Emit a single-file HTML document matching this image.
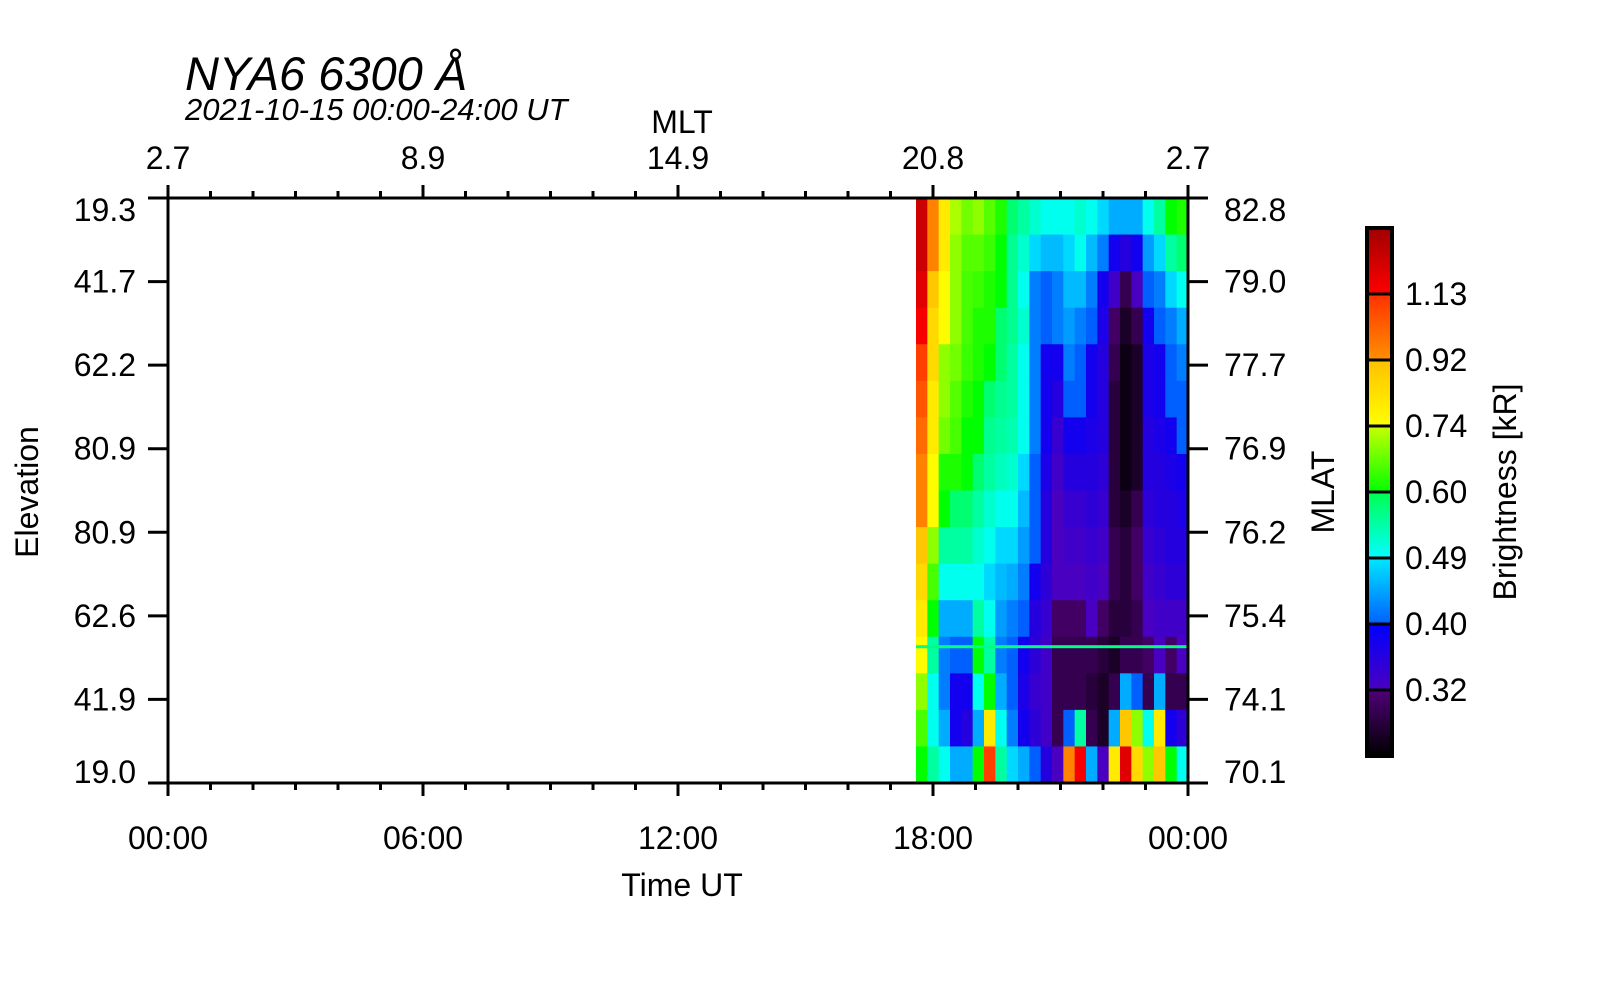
<!DOCTYPE html>
<html><head><meta charset="utf-8"><style>
html,body{margin:0;padding:0;background:#fff;}
svg{display:block;font-family:"Liberation Sans",sans-serif;}
</style></head><body>
<svg id="chart" width="1600" height="1000" viewBox="0 0 1600 1000">
<defs>
<linearGradient id="cbgrad" x1="0" y1="1" x2="0" y2="0">
<stop offset="0" stop-color="#000000"/><stop offset="0.125" stop-color="#500078"/>
<stop offset="0.125" stop-color="#4a00c0"/><stop offset="0.25" stop-color="#0000ff"/>
<stop offset="0.25" stop-color="#0060ff"/><stop offset="0.375" stop-color="#00e8ff"/>
<stop offset="0.375" stop-color="#00ffff"/><stop offset="0.5" stop-color="#00ff50"/>
<stop offset="0.5" stop-color="#00ff00"/><stop offset="0.625" stop-color="#c8ff00"/>
<stop offset="0.625" stop-color="#ffff00"/><stop offset="0.75" stop-color="#ffc000"/>
<stop offset="0.75" stop-color="#ff9000"/><stop offset="0.875" stop-color="#ff3000"/>
<stop offset="0.875" stop-color="#ff0000"/><stop offset="1" stop-color="#a00000"/>
</linearGradient>
</defs>
<text x="185" y="90" font-size="47" font-style="italic">NYA6 6300 Å</text>
<text x="185" y="120" font-size="31" font-style="italic">2021-10-15 00:00-24:00 UT</text>
<text x="682" y="133" font-size="32" text-anchor="middle">MLT</text>
<text x="682" y="896" font-size="32" text-anchor="middle">Time UT</text>
<text transform="translate(38,492) rotate(-90)" font-size="32" text-anchor="middle">Elevation</text>
<text transform="translate(1334,492) rotate(-90)" font-size="32" text-anchor="middle">MLAT</text>
<text transform="translate(1516,492) rotate(-90)" font-size="32" text-anchor="middle">Brightness [kR]</text>
<g id="heat"></g>
<g id="axes"></g>
<g id="cbar"></g>
</svg>
<script>
const xTickLabels = ["00:00","06:00","12:00","18:00","00:00"];
const mltLabels = ["2.7","8.9","14.9","20.8","2.7"];
const elevLabels = ["19.3","41.7","62.2","80.9","80.9","62.6","41.9","19.0"];
const mlatLabels = ["82.8","79.0","77.7","76.9","76.2","75.4","74.1","70.1"];
const cbLevels = [0.26,0.32,0.40,0.49,0.60,0.74,0.92,1.13,1.35];
const cbLabels = ["0.32","0.40","0.49","0.60","0.74","0.92","1.13"];
const dataStart = 17.6;
const lineLevel = 0.57;
const lineRowFrac = 0.767;
const heat = [
[1.25,1.25,1.2,1.15,1.1,1.05,1.0,0.95,0.95,0.9,0.85,0.8,0.75,0.7,0.65,0.6],
[0.95,0.95,0.9,0.85,0.85,0.8,0.8,0.75,0.75,0.7,0.65,0.6,0.55,0.5,0.5,0.55],
[0.8,0.8,0.75,0.75,0.7,0.7,0.68,0.62,0.6,0.55,0.5,0.45,0.42,0.42,0.45,0.5],
[0.72,0.7,0.7,0.7,0.68,0.66,0.65,0.62,0.58,0.55,0.5,0.45,0.4,0.38,0.38,0.45],
[0.68,0.66,0.65,0.65,0.64,0.62,0.6,0.6,0.58,0.55,0.5,0.45,0.4,0.38,0.36,0.45],
[0.7,0.66,0.64,0.62,0.62,0.6,0.6,0.58,0.55,0.52,0.5,0.55,0.6,0.5,0.45,0.6],
[0.66,0.64,0.62,0.62,0.6,0.58,0.56,0.55,0.52,0.5,0.48,0.5,0.55,0.6,0.8,1.1],
[0.62,0.6,0.6,0.58,0.58,0.56,0.55,0.53,0.5,0.48,0.46,0.44,0.42,0.45,0.5,0.55],
[0.58,0.56,0.56,0.56,0.55,0.55,0.54,0.52,0.5,0.48,0.45,0.42,0.4,0.4,0.42,0.48],
[0.55,0.52,0.5,0.52,0.5,0.5,0.5,0.48,0.46,0.44,0.42,0.4,0.38,0.37,0.38,0.45],
[0.52,0.48,0.42,0.42,0.42,0.42,0.42,0.4,0.4,0.4,0.38,0.36,0.35,0.34,0.35,0.4],
[0.5,0.46,0.4,0.4,0.38,0.38,0.38,0.37,0.36,0.36,0.35,0.34,0.33,0.33,0.33,0.36],
[0.5,0.46,0.42,0.42,0.38,0.36,0.34,0.33,0.32,0.32,0.32,0.31,0.3,0.3,0.3,0.32],
[0.5,0.48,0.46,0.44,0.42,0.4,0.38,0.36,0.34,0.33,0.32,0.31,0.3,0.3,0.4,0.95],
[0.52,0.5,0.46,0.42,0.4,0.4,0.38,0.36,0.34,0.33,0.32,0.31,0.3,0.3,0.55,1.15],
[0.5,0.46,0.42,0.4,0.38,0.38,0.37,0.36,0.35,0.34,0.33,0.32,0.3,0.29,0.3,0.45],
[0.48,0.42,0.38,0.37,0.36,0.36,0.36,0.35,0.34,0.33,0.32,0.31,0.29,0.28,0.28,0.32],
[0.45,0.38,0.33,0.31,0.3,0.29,0.29,0.29,0.29,0.3,0.3,0.29,0.28,0.3,0.45,0.8],
[0.45,0.36,0.3,0.28,0.27,0.27,0.27,0.27,0.28,0.29,0.29,0.29,0.3,0.45,0.9,1.2],
[0.45,0.38,0.32,0.3,0.28,0.28,0.28,0.28,0.3,0.31,0.31,0.3,0.3,0.4,0.7,0.85],
[0.5,0.44,0.4,0.38,0.37,0.37,0.36,0.36,0.35,0.34,0.33,0.32,0.31,0.3,0.5,0.7],
[0.55,0.48,0.42,0.4,0.38,0.38,0.37,0.36,0.36,0.35,0.34,0.33,0.32,0.45,0.8,0.9],
[0.6,0.55,0.48,0.42,0.4,0.4,0.38,0.37,0.36,0.36,0.35,0.33,0.31,0.3,0.38,0.6],
[0.62,0.58,0.5,0.45,0.42,0.4,0.4,0.38,0.37,0.36,0.35,0.33,0.32,0.3,0.35,0.5]
];

const NS="http://www.w3.org/2000/svg";
const PL=168, PR=1188, PT=198, PB=783;
const xScale = h => PL + (h/24)*(PR-PL);
const yFrac = f => PT + f*(PB-PT);
const CBX=1367, CBW=25, CBT=228, CBB=756;
const cbY = i => CBB - i*(CBB-CBT)/(cbLevels.length-1);

const stops = [[0,0,0],[80,0,120],[74,0,192],[0,0,255],[0,96,255],[0,232,255],[0,255,255],[0,255,80],[0,255,0],[200,255,0],[255,255,0],[255,192,0],[255,144,0],[255,48,0],[255,0,0],[160,0,0]];
function colorOf(v){
  let k=cbLevels.length-2;
  for(let i=0;i<cbLevels.length-1;i++){ if(v<cbLevels[i+1]){k=i;break;} }
  let t=(v-cbLevels[k])/(cbLevels[k+1]-cbLevels[k]);
  t=Math.max(0,Math.min(1,t));
  const a=stops[2*k], b=stops[2*k+1];
  return "rgb("+a.map((c,j)=>Math.round(c+(b[j]-c)*t)).join(",")+")";
}
function mk(tag,attrs,parent){const e=document.createElementNS(NS,tag);for(const k in attrs)e.setAttribute(k,attrs[k]);parent.appendChild(e);return e;}

const gH=document.getElementById('heat');
const nc=heat.length, nr=heat[0].length, cw=(24-dataStart)/nc;
heat.forEach((col,i)=>{
  col.forEach((v,j)=>{
    const x0=xScale(dataStart+i*cw), x1=xScale(dataStart+(i+1)*cw);
    const y0=yFrac(j/nr), y1=yFrac((j+1)/nr);
    const r=mk('rect',{x:x0,y:y0,width:x1-x0+0.5,height:y1-y0+0.5,fill:colorOf(v)},gH);
    
    
  });
});
const hl=mk('rect',{x:xScale(dataStart),y:yFrac(lineRowFrac)-1.5,width:xScale(24)-xScale(dataStart),height:3,fill:colorOf(lineLevel)},gH);



const gA=document.getElementById('axes');
mk('rect',{x:PL,y:PT,width:PR-PL,height:PB-PT,fill:"none",stroke:"#000","stroke-width":3},gA);
for(let h=0;h<=24;h++){
  const x=xScale(h), major=h%6===0, L=major?13:7;
  mk('line',{x1:x,y1:PT,x2:x,y2:PT-L,stroke:"#000","stroke-width":3},gA);
  mk('line',{x1:x,y1:PB,x2:x,y2:PB+L,stroke:"#000","stroke-width":3},gA);
}
xTickLabels.forEach((t,i)=>{
  const e=mk('text',{x:xScale(i*6),y:849,"font-size":32,"text-anchor":"middle"},gA); e.textContent=t;
  
  
});
mltLabels.forEach((t,i)=>{
  const e=mk('text',{x:xScale(i*6),y:169,"font-size":32,"text-anchor":"middle"},gA); e.textContent=t;
  
  
});
elevLabels.forEach((t,i)=>{
  const y=yFrac(i/(elevLabels.length-1));
  mk('line',{x1:PL,y1:y,x2:PL-20,y2:y,stroke:"#000","stroke-width":3},gA);
  mk('line',{x1:PR,y1:y,x2:PR+20,y2:y,stroke:"#000","stroke-width":3},gA);
  const ty = i===0? y+23 : (i===elevLabels.length-1? y : y+11);
  const e=mk('text',{x:136,y:ty,"font-size":32,"text-anchor":"end"},gA); e.textContent=t;
  
  
  const e2=mk('text',{x:1224,y:ty,"font-size":32},gA); e2.textContent=mlatLabels[i];
  
  
});

const gC=document.getElementById('cbar');
mk('rect',{x:CBX,y:CBT,width:CBW,height:CBB-CBT,fill:"url(#cbgrad)",stroke:"#000","stroke-width":4},gC);
cbLabels.forEach((t,i)=>{
  const y=cbY(i+1);
  mk('line',{x1:CBX,y1:y,x2:CBX+CBW,y2:y,stroke:"#000","stroke-width":3},gC);
  const e=mk('text',{x:1405,y:y+11,"font-size":32},gC); e.textContent=t;
  
  
});
</script>
</body></html>
